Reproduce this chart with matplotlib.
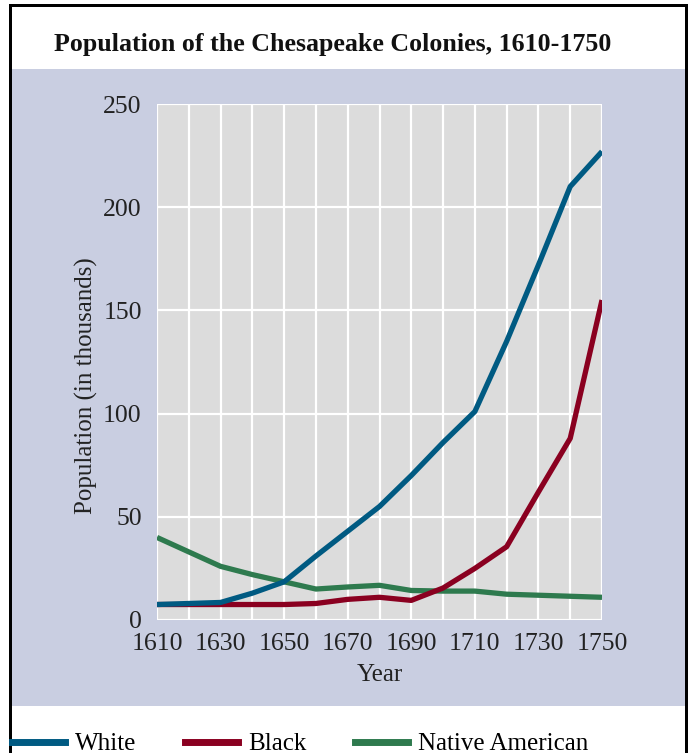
import matplotlib
matplotlib.use("Agg")
import matplotlib.pyplot as plt
from matplotlib.patches import Rectangle
from matplotlib.lines import Line2D

# population in thousands, Chesapeake colonies
years = [1610, 1620, 1630, 1640, 1650, 1660, 1670, 1680, 1690, 1700,
         1710, 1720, 1730, 1740, 1750]
white = [7.5, 8, 8.5, 13, 18.5, 31, 43, 55, 70, 86, 101, 135, 172, 210, 227]
black = [7.5, 7.5, 7.5, 7.5, 7.5, 8, 10, 11, 9.5, 15.5, 25, 35.5, 62, 88, 155]
native = [40, 33, 26, 22, 18.5, 15, 16, 16.8, 14.3, 14, 14, 12.5, 12, 11.5, 11]

x_ticks = [1610, 1630, 1650, 1670, 1690, 1710, 1730, 1750]
y_ticks = [0, 50, 100, 150, 200, 250]

series_names = ["White", "Black", "Native American"]
series_colors = ["#005a82", "#8a0020", "#2e7a4e"]

W, H = 691, 753
plt.rcParams['font.family'] = ['Liberation Serif', 'DejaVu Serif']

fig = plt.figure(figsize=(W / 100, H / 100), dpi=100)
fig.patch.set_facecolor("white")

def px(x0, y0, x1, y1):
    # pixel box -> figure fraction rect
    return (x0 / W, 1 - y1 / H, (x1 - x0) / W, (y1 - y0) / H)

# lavender panel
x, y, w, h = px(12, 69, 686, 706)
fig.add_artist(Rectangle((x, y), w, h, transform=fig.transFigure,
                         facecolor="#c9cee1", edgecolor="none", zorder=0))

# black frame (top, left, right)
for (a, b, c, d) in [(9, 4, 688, 7), (9, 4, 12, 753), (685, 4, 688, 753)]:
    x, y, w, h = px(a, b, c, d)
    fig.add_artist(Rectangle((x, y), w, h, transform=fig.transFigure,
                             facecolor="black", edgecolor="none", zorder=5))

fig.text(333 / W, 1 - 44 / H, "Population of the Chesapeake Colonies, 1610-1750",
         ha="center", va="center", fontsize=18.6, fontweight="bold", color="#111111")

ax = fig.add_axes([157 / W, 1 - 620 / H, (602 - 157) / W, (620 - 104) / H])
ax.set_facecolor("#dcdcdc")

ax.plot(years, native, color=series_colors[2], lw=3.8, solid_capstyle="butt")
ax.plot(years, black, color=series_colors[1], lw=3.8, solid_capstyle="butt")
ax.plot(years, white, color=series_colors[0], lw=3.8, solid_capstyle="butt")

ax.set_xlim(1610, 1750)
ax.set_ylim(0, 250)
ax.set_xticks(x_ticks)
ax.set_xticks(years, minor=True)
ax.set_yticks(y_ticks)
ax.grid(True, which="both", color="white", lw=1.6)
ax.set_axisbelow(True)
for s in ax.spines.values():
    s.set_visible(False)
ax.tick_params(which="both", length=0, labelsize=18.5, colors="#222222")
ax.tick_params(axis="x", pad=9)
ax.tick_params(axis="y", pad=11)

ax.set_xlabel("Year", fontsize=18, color="#222222")
ax.xaxis.set_label_coords(0.5, -0.086)
ax.set_ylabel("Population (in thousands)", fontsize=18, color="#222222")
ax.yaxis.set_label_coords(-0.133, 0.4535)

handles = [Line2D([], [], color=c, lw=5) for c in series_colors]
fig.legend(handles, series_names, loc="center left", ncol=3,
           bbox_to_anchor=(12 / W, 1 - 744 / H), frameon=False, fontsize=18,
           handlelength=2.1, handletextpad=0.42, columnspacing=1.95,
           borderaxespad=0, borderpad=0)

fig.savefig("out.png", dpi=100)
